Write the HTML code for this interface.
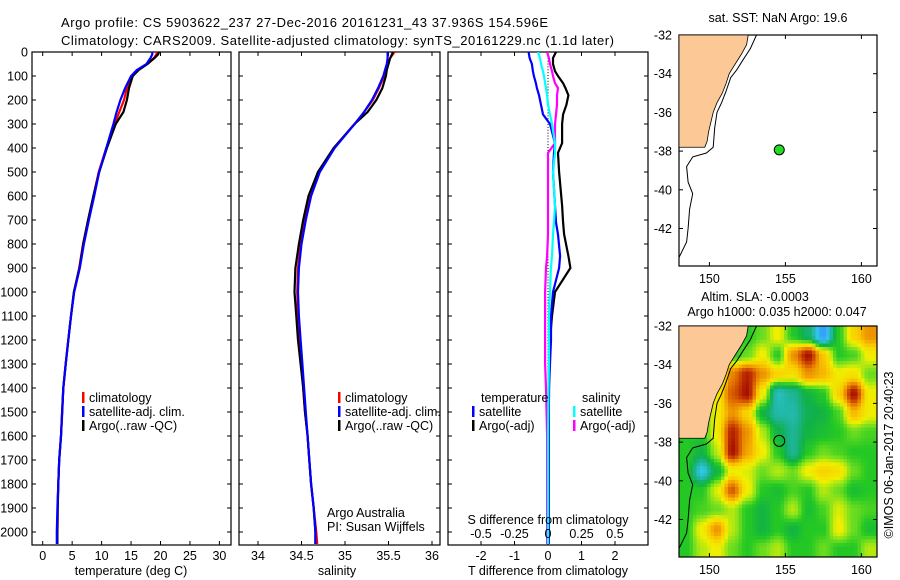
<!DOCTYPE html>
<html><head><meta charset="utf-8"><style>
html,body{margin:0;padding:0;background:#fff;}
svg{display:block;font-family:"Liberation Sans",sans-serif;}
text{font-size:12.5px;fill:#000;}
.ttl{font-size:13px;}
</style></head><body>
<svg id="s" width="900" height="580" viewBox="0 0 900 580" xmlns="http://www.w3.org/2000/svg">
<defs>
<clipPath id="c1"><rect x="32" y="52" width="199" height="493"/></clipPath>
<clipPath id="c2"><rect x="239" y="52" width="201" height="493"/></clipPath>
<clipPath id="c3"><rect x="448" y="52" width="200" height="493"/></clipPath>
<clipPath id="cm1"><rect x="679" y="35" width="198" height="232"/></clipPath>
<clipPath id="cm2"><rect x="679" y="326" width="198" height="231"/></clipPath>
</defs>
<text class="ttl" x="61" y="27" textLength="487">Argo profile: CS 5903622_237 27-Dec-2016 20161231_43 37.936S 154.596E</text>
<text class="ttl" x="61" y="45" textLength="553">Climatology: CARS2009. Satellite-adjusted climatology: synTS_20161229.nc (1.1d later)</text>
<g id="g"></g>
</svg>
<script>
// ---------- profile data ----------
const depths = [0,10,25,50,75,100,150,200,250,300,400,500,600,700,800,900,1000,1100,1200,1300,1400,1500,1600,1700,1800,1900,2000,2050];
const tempClim = [19.4,19.3,18.9,17.7,16.1,15.1,14.3,13.8,13.0,12.2,10.8,9.5,8.6,7.7,6.85,6.2,5.3,4.8,4.35,3.9,3.5,3.33,3.1,2.8,2.65,2.55,2.5,2.5];
const tempSat = [18.6,18.6,18.3,17.6,16.0,15.0,14.0,13.2,12.55,12.0,10.8,9.6,8.75,7.85,7.0,6.3,5.35,4.8,4.35,3.9,3.5,3.3,3.1,2.8,2.65,2.5,2.4,2.4];
const tempArgo = [19.75,19.6,19.0,17.8,16.3,15.3,14.65,14.3,13.7,12.4,10.9,9.6,8.6,7.7,6.9,6.25,5.3,4.8,4.35,3.9,3.5,3.3,3.1,2.8,2.65,2.55,2.5,2.5];
const salClim = [35.57,35.55,35.52,35.49,35.47,35.45,35.39,35.32,35.22,35.11,34.87,34.69,34.59,34.53,34.49,34.46,34.45,34.46,34.47,34.50,34.52,34.54,34.57,34.59,34.61,34.64,34.67,34.68];
const salSat = [35.49,35.49,35.49,35.48,35.46,35.44,35.38,35.31,35.22,35.11,34.88,34.71,34.61,34.55,34.50,34.47,34.46,34.47,34.49,34.51,34.53,34.55,34.57,34.59,34.61,34.64,34.66,34.66];
const salArgo = [35.55,35.54,35.52,35.50,35.48,35.47,35.43,35.36,35.26,35.11,34.87,34.69,34.58,34.52,34.47,34.43,34.42,34.44,34.46,34.49,34.52,34.54,34.57,34.59,34.61,34.64,34.66,34.66];
const diffDepths = [0,25,50,80,100,130,150,180,220,260,300,380,420,500,640,710,760,850,900,1000,1100,1200,1300,1400,1600,1800,2000,2050];
const tDiffSat = [-0.58,-0.55,-0.48,-0.45,-0.42,-0.36,-0.33,-0.27,-0.21,-0.15,0.06,0.21,0.18,0.15,0.21,0.24,0.30,0.36,0.33,0.15,0.09,0.09,0.06,0.03,0.02,0.02,0.02,0.02];
const tDiffArgo = [0.24,0.15,0.15,0.21,0.30,0.45,0.52,0.61,0.55,0.45,0.42,0.42,0.30,0.33,0.42,0.45,0.48,0.61,0.67,0.21,0.12,0.06,0.03,0.03,0.02,0.02,0.02,0.02];
const sDiffSat = [-0.075,-0.06,-0.052,-0.037,-0.03,-0.022,-0.015,-0.007,0,0.015,0.03,0.052,0.052,0.037,0.052,0.045,0.037,0.03,0.022,0.015,0.007,0.007,0.007,0.004,0,0,0,0];
const sDiffArgo = [-0.007,0.007,0.015,0.03,0.037,0.052,0.075,0.067,0.067,0.06,0.052,0.052,0,0,0,0,0,-0.007,-0.015,-0.022,-0.022,-0.022,-0.022,-0.015,-0.007,-0.007,-0.007,-0.007];
const depthTicks = [0,100,200,300,400,500,600,700,800,900,1000,1100,1200,1300,1400,1500,1600,1700,1800,1900,2000];
const tempTicks = [0,5,10,15,20,25,30];
const salTicks = [34,34.5,35,35.5,36];
const salTickLabels = ["34","34.5","35","35.5","36"];
const tDiffTicks = [-2,-1,0,1,2];
const sDiffTicks = [-0.5,-0.25,0,0.25,0.5];
const sDiffTickLabels = ["-0.5","-0.25","0","0.25","0.5"];
// ---------- map data ----------
const lonTicks = [150,155,160];
const latTicks = [-32,-34,-36,-38,-40,-42];
const argoLon = 154.596, argoLat = -37.936;
const coastLon = [152.55,152.45,152.1,151.7,151.3,151.1,150.85,150.5,150.25,150.1,149.95,149.85,149.7];
const coastLat = [-32,-32.5,-33,-33.5,-34,-34.5,-35,-35.5,-36,-36.5,-37,-37.5,-37.8];
const isoLon = [153.1,152.7,152.2,151.8,151.4,151.1,150.8,150.5,150.35,150.25,149.8,148.9,148.5,148.6,148.9,148.7,148.6,148.5,148.0];
const isoLat = [-32,-32.7,-33.3,-33.8,-34.2,-34.9,-35.5,-36.0,-36.8,-37.8,-38.1,-38.3,-38.8,-39.6,-40.2,-41.0,-42.0,-42.7,-43.5];
const gridLat0 = -32, gridLon0 = 148;
const slaGrid = [
 [0,0,0,0,0,0.1,0.3,0,-0.2,-0.7,0,0.4,0.6],
 [0,0,0,0,0.1,0.3,0,0.6,0.95,0.45,0,0.05,0.3],
 [0,0,0,0.65,0.9,0.6,0.4,0.35,0.6,0.5,0.3,0.35,0.1],
 [0,0,0.3,0.75,0.95,0.3,-0.4,-0.3,-0.1,0,0.4,0.95,0.3],
 [0,0,0.3,0.6,0.4,-0.1,-0.35,-0.35,-0.15,-0.1,0.05,0.5,0.3],
 [0,0,0.3,0.9,0.6,0.2,-0.1,-0.3,-0.1,-0.05,0,0.1,0.05],
 [0,-0.1,0.2,0.95,0.55,0.3,0,-0.3,0,0.1,0.05,0,0],
 [0,-0.5,-0.1,0.3,0.25,0.1,0.2,0.1,0.3,0.4,0.35,0.1,0],
 [0,0,0.25,0.75,0.3,0,-0.05,0.05,0,0.2,0.1,-0.05,0],
 [0,0.05,0.1,0.2,0,-0.1,0,0.2,-0.05,0.05,0.25,0.1,0.05],
 [0,0.3,0.6,0.2,0,-0.1,0,-0.1,0,0,0.3,0.1,-0.05],
 [0,0.2,0.3,0.1,0,0.1,0.2,0,0,0.1,0,0,0.2]
];

const NS='http://www.w3.org/2000/svg';
const G=document.getElementById('g');
function mk(tag,attrs,parent){const e=document.createElementNS(NS,tag);for(const k in attrs)e.setAttribute(k,attrs[k]);(parent||G).appendChild(e);return e;}
function txt(x,y,s,anchor,parent){const t=mk('text',{x:x,y:y,'text-anchor':anchor||'start'},parent);t.textContent=s;return t;}

const yD = d => 52 + d*0.24;
const xT = v => 42.7 + v*5.89;
const xS = v => 258 + (v-34)*87;
const xTd = v => 548 + v*33.5;
const xSd = v => 548 + v*134;

function frame(x0,x1,name){
  const r=mk('rect',{x:x0,y:52,width:x1-x0,height:493,fill:'none',stroke:'#000','stroke-width':1.2});
  
  
  depthTicks.forEach(d=>{const y=yD(d);
    mk('line',{x1:x0,x2:x0+4,y1:y,y2:y,stroke:'#000'});
    mk('line',{x1:x1-4,x2:x1,y1:y,y2:y,stroke:'#000'});});
}
function series(xs,ys,color,clip,name,w){
  const p=mk('polyline',{points:xs.map((v,i)=>v.toFixed(1)+','+ys[i].toFixed(1)).join(' '),fill:'none',stroke:color,'stroke-width':w||2.2,'clip-path':'url(#'+clip+')'});
  
  
}
function legendEntry(x,y,color,label,name){
  const g=mk('g',{});
  
  
  mk('rect',{x:x,y:y-10,width:2.5,height:11,fill:color},g);
  txt(x+7,y,label,'start',g);
}

// Panel 1 temperature
frame(32,231,'temperature-panel-frame');
depthTicks.forEach(d=>{const t=txt(28,yD(d)+4.5,String(d),'end');});
tempTicks.forEach(v=>{mk('line',{x1:xT(v),x2:xT(v),y1:545,y2:541,stroke:'#000'});mk('line',{x1:xT(v),x2:xT(v),y1:52,y2:56,stroke:'#000'});
  const t=txt(xT(v),560,String(v),'middle');});
const tt=txt(131,575,'temperature (deg C)','middle');
const dy=depths.map(yD);
series(tempClim.map(xT),dy,'#ff0000','c1','temperature-climatology-line');
series(tempArgo.map(xT),dy,'#000000','c1','temperature-argo-line');
series(tempSat.map(xT),dy,'#0000ff','c1','temperature-satellite-line');
legendEntry(82,402,'#ff0000','climatology','temp-legend-climatology');
legendEntry(82,416,'#0000ff','satellite-adj. clim.','temp-legend-satellite');
legendEntry(82,430,'#000000','Argo(..raw -QC)','temp-legend-argo');

// Panel 2 salinity
frame(239,440,'salinity-panel-frame');
salTicks.forEach((v,i)=>{mk('line',{x1:xS(v),x2:xS(v),y1:545,y2:541,stroke:'#000'});mk('line',{x1:xS(v),x2:xS(v),y1:52,y2:56,stroke:'#000'});
  const t=txt(xS(v),560,salTickLabels[i],'middle');});
const st=txt(337,575,'salinity','middle');
series(salClim.map(xS),dy,'#ff0000','c2','salinity-climatology-line');
series(salArgo.map(xS),dy,'#000000','c2','salinity-argo-line');
series(salSat.map(xS),dy,'#0000ff','c2','salinity-satellite-line');
legendEntry(338,402,'#ff0000','climatology','sal-legend-climatology');
legendEntry(338,416,'#0000ff','satellite-adj. clim.','sal-legend-satellite');
legendEntry(338,430,'#000000','Argo(..raw -QC)','sal-legend-argo');
const a1=txt(327,517,'Argo Australia');
const a2=txt(327,531,'PI: Susan Wijffels');

// Panel 3 differences
frame(448,648,'difference-panel-frame');
tDiffTicks.forEach(v=>{mk('line',{x1:xTd(v),x2:xTd(v),y1:545,y2:541,stroke:'#000'});mk('line',{x1:xTd(v),x2:xTd(v),y1:52,y2:56,stroke:'#000'});
  const t=txt(xTd(v),560,String(v),'middle');});
const dt=txt(548,575,'T difference from climatology','middle');
for(let d=0;d<=2050;d+=12){mk('rect',{x:547.5,y:yD(d),width:1,height:1,fill:'#000'});}
const ddy=diffDepths.map(yD);
series(sDiffArgo.map(xSd),ddy,'#ff00ff','c3','s-diff-argo-line');
series(tDiffArgo.map(xTd),ddy,'#000000','c3','t-diff-argo-line');
series(tDiffSat.map(xTd),ddy,'#0000ff','c3','t-diff-satellite-line');
series(sDiffSat.map(xSd),ddy,'#00ffff','c3','s-diff-satellite-line');
sDiffTicks.forEach((v,i)=>{const t=txt(xSd(v),538,sDiffTickLabels[i],'middle');});
const sdt=txt(548,524,'S difference from climatology','middle');
const lt=txt(481,402,'temperature');
const ls=txt(582,402,'salinity');
legendEntry(472,416,'#0000ff','satellite','legend-t-satellite');
legendEntry(472,430,'#000000','Argo(-adj)','legend-t-argo');
legendEntry(573,416,'#00ffff','satellite','legend-s-satellite');
legendEntry(573,430,'#ff00ff','Argo(-adj)','legend-s-argo');

// ---------- maps ----------
const mx = lon => 679 + (lon-148)*15.2;
function mapAxes(y0,name){
  const my = lat => y0 + (-32-lat)*19.35;
  const r=mk('rect',{x:679,y:y0,width:198,height:231,fill:'none',stroke:'#000','stroke-width':1.2});
  
  
  lonTicks.forEach(l=>{mk('line',{x1:mx(l),x2:mx(l),y1:y0,y2:y0+4,stroke:'#000'});mk('line',{x1:mx(l),x2:mx(l),y1:y0+231,y2:y0+227,stroke:'#000'});
    const t=txt(mx(l),y0+248,String(l),'middle');});
  latTicks.forEach(l=>{mk('line',{x1:679,x2:683,y1:my(l),y2:my(l),stroke:'#000'});mk('line',{x1:873,x2:877,y1:my(l),y2:my(l),stroke:'#000'});
    const t=txt(672,my(l)+4.5,String(l),'end');});
  return my;
}
function land(my,clip,name){
  const pts=['679,'+my(-32)];
  coastLon.forEach((l,i)=>pts.push(mx(l).toFixed(1)+','+my(coastLat[i]).toFixed(1)));
  pts.push('679,'+my(-37.8));
  const p=mk('polygon',{points:pts.join(' '),fill:'#fcc896',stroke:'#000','stroke-width':0.8,'clip-path':'url(#'+clip+')'});
  
  
  const i=mk('polyline',{points:isoLon.map((l,k)=>mx(l).toFixed(1)+','+my(isoLat[k]).toFixed(1)).join(' '),fill:'none',stroke:'#000','stroke-width':1,'clip-path':'url(#'+clip+')'});
  
  
}
// map 1
const mt1=txt(778,22,'sat. SST: NaN Argo: 19.6','middle');
const my1=mapAxes(35,'sst-map-frame');
land(my1,'cm1','sst-map-land');
const dot=mk('circle',{cx:mx(argoLon),cy:my1(argoLat),r:5,fill:'#22dd22',stroke:'#000','stroke-width':1});



// map 2 heatmap
const mt2=txt(755,301,'Altim. SLA: -0.0003','middle');
const mt3=txt(777,316,'Argo h1000: 0.035 h2000: 0.047','middle');
const stops=[[-0.8,[58,140,255]],[-0.5,[48,200,232]],[-0.3,[30,180,150]],[-0.12,[16,176,72]],[0,[36,200,36]],[0.12,[120,224,30]],[0.28,[240,240,0]],[0.45,[250,200,0]],[0.65,[232,130,0]],[0.82,[200,60,0]],[1,[150,0,0]]];
function cmap(v){if(v<=stops[0][0])return stops[0][1];for(let i=1;i<stops.length;i++){if(v<=stops[i][0]){const a=stops[i-1],b=stops[i],t=(v-a[0])/(b[0]-a[0]);return a[1].map((c,k)=>Math.round(c+(b[1][k]-c)*t));}}return stops[stops.length-1][1];}
function sample(lon,lat){
  const nr=slaGrid.length,nc=slaGrid[0].length;
  let fc=lon-gridLon0-0.5, fr=gridLat0-lat-0.5;
  fc=Math.max(0,Math.min(nc-1,fc)); fr=Math.max(0,Math.min(nr-1,fr));
  const c0=Math.min(nc-2,Math.floor(fc)), r0=Math.min(nr-2,Math.floor(fr));
  const tc=fc-c0, tr=fr-r0;
  const s=t=>t*t*(3-2*t);
  const a=s(tc), b=s(tr);
  const v0=slaGrid[r0][c0]*(1-a)+slaGrid[r0][c0+1]*a;
  const v1=slaGrid[r0+1][c0]*(1-a)+slaGrid[r0+1][c0+1]*a;
  return v0*(1-b)+v1*b;
}
const hg=mk('g',{'clip-path':'url(#cm2)','shape-rendering':'crispEdges'});


const step=3.5;
for(let py=326;py<557;py+=step){
  for(let px=679;px<877;px+=step){
    const lon=gridLon0+(px+step/2-679)/15.2, lat=gridLat0-(py+step/2-326)/19.35;
    const c3=cmap(sample(lon,lat));
    mk('rect',{x:px,y:py,width:step+0.3,height:step+0.3,fill:'rgb('+c3.join(',')+')'},hg);
  }
}
const my2b=mapAxes(326,'sla-map-frame');
land(my2b,'cm2','sla-map-land');
const ring=mk('circle',{cx:mx(argoLon),cy:my2b(argoLat),r:5.5,fill:'none',stroke:'#000','stroke-width':1});


const cr=mk('text',{x:0,y:0,transform:'translate(893,455) rotate(-90)','text-anchor':'middle'});
cr.textContent='©IMOS 06-Jan-2017 20:40:23';


</script>
</body></html>
